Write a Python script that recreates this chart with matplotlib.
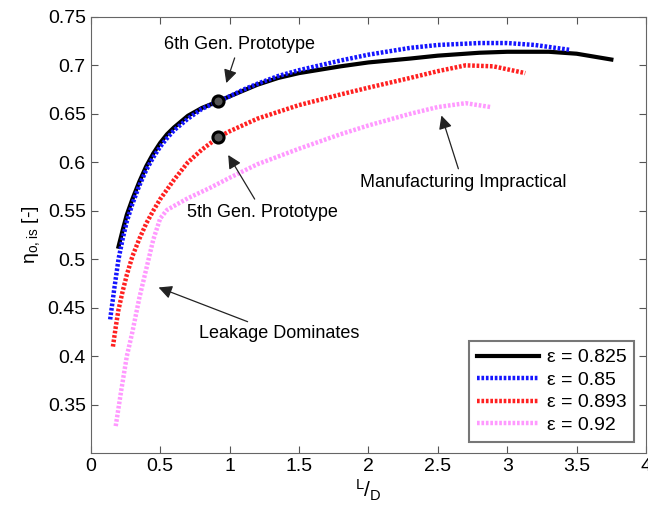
import matplotlib
matplotlib.use('Agg')
import numpy as np
import matplotlib.pyplot as plt

plt.rcParams['font.family'] = ['Liberation Sans', 'DejaVu Sans']
plt.rcParams['mathtext.default'] = 'regular'

# eps = 0.825
x_825 = [0.20, 0.23, 0.26, 0.30, 0.35, 0.40, 0.45, 0.50, 0.55, 0.60, 0.70, 0.80, 0.92, 1.0, 1.1, 1.2, 1.35, 1.5, 1.8, 2.0, 2.3, 2.5, 2.8, 3.0, 3.3, 3.5, 3.75]
y_825 = [0.513, 0.530, 0.546, 0.562, 0.580, 0.596, 0.609, 0.620, 0.629, 0.636, 0.648, 0.656, 0.663, 0.668, 0.674, 0.680, 0.687, 0.692, 0.699, 0.703, 0.707, 0.710, 0.713, 0.714, 0.714, 0.712, 0.706]
# eps = 0.85
x_85 = [0.14, 0.17, 0.20, 0.23, 0.26, 0.30, 0.35, 0.40, 0.45, 0.50, 0.55, 0.60, 0.70, 0.80, 0.92, 1.0, 1.1, 1.2, 1.35, 1.5, 1.8, 2.0, 2.3, 2.5, 2.8, 3.0, 3.2, 3.45]
y_85 = [0.438, 0.470, 0.500, 0.521, 0.539, 0.557, 0.576, 0.592, 0.605, 0.616, 0.625, 0.633, 0.645, 0.655, 0.663, 0.668, 0.675, 0.681, 0.689, 0.695, 0.705, 0.711, 0.718, 0.721, 0.723, 0.723, 0.721, 0.716]
# eps = 0.893
x_893 = [0.16, 0.18, 0.20, 0.23, 0.26, 0.30, 0.35, 0.40, 0.45, 0.50, 0.60, 0.70, 0.80, 0.92, 1.0, 1.2, 1.5, 1.8, 2.0, 2.3, 2.5, 2.7, 2.9, 3.13]
y_893 = [0.410, 0.430, 0.448, 0.467, 0.484, 0.503, 0.521, 0.537, 0.550, 0.562, 0.582, 0.600, 0.613, 0.626, 0.632, 0.645, 0.659, 0.670, 0.677, 0.687, 0.694, 0.700, 0.699, 0.692]
# eps = 0.92
x_92 = [0.18, 0.22, 0.26, 0.30, 0.35, 0.40, 0.45, 0.50, 0.55, 0.70, 0.85, 1.0, 1.2, 1.5, 1.8, 2.0, 2.3, 2.5, 2.7, 2.88]
y_92 = [0.328, 0.365, 0.400, 0.425, 0.460, 0.490, 0.520, 0.542, 0.551, 0.563, 0.573, 0.584, 0.598, 0.614, 0.629, 0.638, 0.650, 0.657, 0.661, 0.657]

proto_x = [0.92, 0.92]
proto_y = [0.663, 0.626]

fig = plt.figure(figsize=(6.48, 5.11), dpi=100)
ax = fig.add_axes([0.140, 0.113, 0.857, 0.854])

dots = (0, (0.6, 0.4))
ax.plot(x_825, y_825, color='black', lw=3, label='ε = 0.825')
ax.plot(x_85, y_85, color='#1515ff', lw=3.2, linestyle=dots, label='ε = 0.85')
ax.plot(x_893, y_893, color='#ff2020', lw=3.2, linestyle=dots, label='ε = 0.893')
ax.plot(x_92, y_92, color='#ff99ff', lw=3.2, linestyle=dots, label='ε = 0.92')
ax.plot(proto_x, proto_y, 'o', color='black', ms=8, mfc='#555555', mew=2.2, ls='none')

arrow = dict(arrowstyle='-|>', color='#222222', lw=0.9, mutation_scale=20)
fs = 13
ax.annotate('6th Gen. Prototype', xy=(0.97, 0.679), xytext=(1.07, 0.722),
            ha='center', va='center', fontsize=fs, arrowprops=arrow)
ax.annotate('5th Gen. Prototype', xy=(0.98, 0.610), xytext=(1.24, 0.548),
            ha='center', va='center', fontsize=fs, arrowprops=arrow)
ax.annotate('Manufacturing Impractical', xy=(2.52, 0.651), xytext=(2.68, 0.579),
            ha='center', va='center', fontsize=fs, arrowprops=arrow)
ax.annotate('Leakage Dominates', xy=(0.47, 0.472), xytext=(1.36, 0.423),
            ha='center', va='center', fontsize=fs, arrowprops=arrow)

ax.set_xlim(0, 4)
ax.set_ylim(0.3, 0.75)
ax.set_xticks([0, 0.5, 1, 1.5, 2, 2.5, 3, 3.5, 4])
ax.set_xticklabels(['0', '0.5', '1', '1.5', '2', '2.5', '3', '3.5', '4'])
ax.set_yticks([0.35, 0.4, 0.45, 0.5, 0.55, 0.6, 0.65, 0.7, 0.75])
ax.set_yticklabels(['0.35', '0.4', '0.45', '0.5', '0.55', '0.6', '0.65', '0.7', '0.75'])
ax.tick_params(direction='in', top=True, right=True, labelsize=14, length=5, color='#555555')
for s in ax.spines.values():
    s.set_color('#666666')

ax.set_xlabel(r'$^{L}/_{D}$', fontsize=15, labelpad=2)
ax.set_ylabel(r'$\eta_{o,is}$ [-]', fontsize=14, labelpad=4)

leg = ax.legend(loc='lower right', fontsize=14, frameon=True, fancybox=False,
                edgecolor='#555555', handlelength=3.2, borderaxespad=0.6,
                labelspacing=0.25, handletextpad=0.4)
leg.get_frame().set_linewidth(1.5)

fig.savefig('out.png', dpi=100)
